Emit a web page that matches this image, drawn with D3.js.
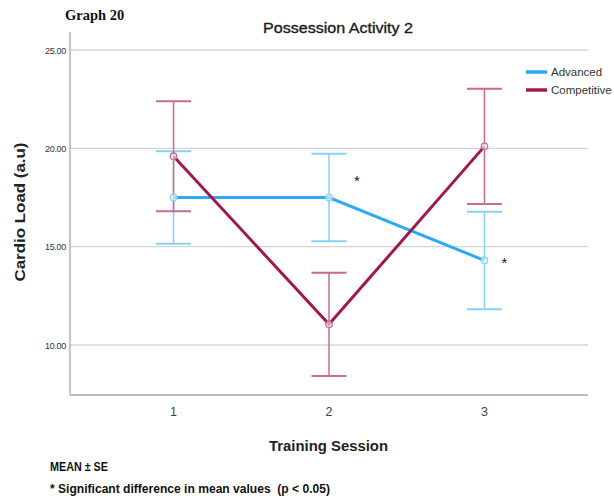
<!DOCTYPE html>
<html>
<head>
<meta charset="utf-8">
<script src="https://cdn.jsdelivr.net/npm/d3@7"></script>
<style>
  html, body { margin: 0; padding: 0; background: #fff; }
  svg { display: block; }
  text { font-family: "Liberation Sans", Arial, sans-serif; }
</style>
</head>
<body>
<svg id="chart" width="614" height="499"></svg>
<script>
// Training sessions on the x axis
const sessions = [1, 2, 3];
// Mean cardio load (a.u) per group and session
const advancedMean = [17.5, 17.5, 14.3];
const advancedSE = [2.35, 2.23, 2.48];
const competitiveMean = [19.6, 11.05, 20.1];
const competitiveSE = [2.8, 2.63, 2.93];
// Sessions flagged with a significant difference
const significant = [2, 3];
const yTicks = [10, 15, 20, 25];

const series = [
  { name: "Advanced", mean: advancedMean, se: advancedSE, line: "#2fa9f2", bar: "#86d1f8" },
  { name: "Competitive", mean: competitiveMean, se: competitiveSE, line: "#a01850", bar: "#c96a90" }
];

const svg = d3.select("#chart");
const plotLeft = 70, plotRight = 588, plotTop = 32, plotBottom = 395;

const x = d3.scalePoint().domain(sessions).range([plotLeft, plotRight]).padding(0.666);
const y = d3.scaleLinear().domain([10, 25]).range([345, 50]);

// Horizontal gridlines
svg.append("g").selectAll("line").data(yTicks).join("line")
  .attr("x1", plotLeft).attr("x2", plotRight)
  .attr("y1", d => y(d)).attr("y2", d => y(d))
  .attr("stroke", "#d4d4d4").attr("stroke-width", 1.3);

// Axes frame
svg.append("line").attr("x1", plotLeft).attr("x2", plotLeft).attr("y1", plotTop).attr("y2", plotBottom)
  .attr("stroke", "#a8a8a8").attr("stroke-width", 1.3);
svg.append("line").attr("x1", plotLeft).attr("x2", plotRight).attr("y1", plotBottom).attr("y2", plotBottom)
  .attr("stroke", "#a8a8a8").attr("stroke-width", 1.3);

// Y tick labels
svg.append("g").selectAll("text").data(yTicks).join("text")
  .attr("x", plotLeft - 4).attr("y", d => y(d) + 3.5)
  .attr("text-anchor", "end")
  .attr("font-size", 9).attr("fill", "#333")
  .attr("style", "font-family:'Liberation Sans Narrow','Liberation Sans',sans-serif; letter-spacing:-0.3px")
  .text(d => d3.format(".2f")(d));

// X tick labels
svg.append("g").selectAll("text").data(sessions).join("text")
  .attr("x", d => x(d)).attr("y", 416)
  .attr("text-anchor", "middle")
  .attr("font-size", 12.5).attr("fill", "#444")
  .attr("style", "font-family:'Liberation Sans Narrow','Liberation Sans',sans-serif")
  .text(d => d);

const capHalf = 17.5;

// Error bars (mean ± SE)
series.forEach(s => {
  const g = svg.append("g");
  const pts = sessions.map((d, i) => ({ s: d, m: s.mean[i], e: s.se[i] }));
  g.selectAll(".stem").data(pts).join("line")
    .attr("x1", d => x(d.s)).attr("x2", d => x(d.s))
    .attr("y1", d => y(d.m + d.e)).attr("y2", d => y(d.m - d.e))
    .attr("stroke", s.bar).attr("stroke-width", 1.5);
  g.selectAll(".capTop").data(pts).join("line")
    .attr("x1", d => x(d.s) - capHalf).attr("x2", d => x(d.s) + capHalf)
    .attr("y1", d => y(d.m + d.e)).attr("y2", d => y(d.m + d.e))
    .attr("stroke", s.bar).attr("stroke-width", 2);
  g.selectAll(".capBot").data(pts).join("line")
    .attr("x1", d => x(d.s) - capHalf).attr("x2", d => x(d.s) + capHalf)
    .attr("y1", d => y(d.m - d.e)).attr("y2", d => y(d.m - d.e))
    .attr("stroke", s.bar).attr("stroke-width", 2);
});

// Mean lines with markers
series.forEach(s => {
  const pts = sessions.map((d, i) => ({ s: d, m: s.mean[i] }));
  svg.append("path").datum(pts)
    .attr("d", d3.line().x(d => x(d.s)).y(d => y(d.m)))
    .attr("fill", "none").attr("stroke", s.line).attr("stroke-width", 3);
  svg.append("g").selectAll("circle").data(pts).join("circle")
    .attr("cx", d => x(d.s)).attr("cy", d => y(d.m)).attr("r", 3.2)
    .attr("fill", "#fff").attr("fill-opacity", 0.6)
    .attr("stroke", s.bar).attr("stroke-width", 1.3);
});

// Significance markers beside the Advanced means
svg.append("g").selectAll("text").data(significant).join("text")
  .attr("x", d => x(d) + (d === 2 ? 28 : 20))
  .attr("y", d => d === 2 ? y(advancedMean[d - 1]) - 12 : y(advancedMean[d - 1]) + 8)
  .attr("font-size", 15).attr("fill", "#222").attr("text-anchor", "middle")
  .text("*");

// Legend
const legend = svg.append("g");
series.forEach((s, i) => {
  const ly = 72 + i * 18;
  legend.append("line").attr("x1", 526).attr("x2", 547).attr("y1", ly).attr("y2", ly)
    .attr("stroke", s.line).attr("stroke-width", 3.5);
  legend.append("text").attr("x", 551).attr("y", ly + 4)
    .attr("font-size", 11.5).attr("fill", "#333")
    .attr("style", "font-family:'Liberation Sans Narrow','Liberation Sans',sans-serif")
    .text(s.name);
});

// Titles and notes
svg.append("text").attr("x", 65).attr("y", 20)
  .attr("style", "font-family:'Liberation Serif','Times New Roman',serif")
  .attr("font-size", 14.5).attr("font-weight", "bold").attr("fill", "#111")
  .text("Graph 20");
svg.append("text").attr("x", 263).attr("y", 33)
  .attr("font-size", 15).attr("fill", "#1a1a1a")
  .attr("stroke", "#1a1a1a").attr("stroke-width", 0.35)
  .attr("textLength", 150).attr("lengthAdjust", "spacingAndGlyphs")
  .text("Possession Activity 2");
svg.append("text")
  .attr("transform", "translate(25,212) rotate(-90)")
  .attr("text-anchor", "middle").attr("font-size", 15.5).attr("font-weight", "bold").attr("fill", "#222")
  .attr("textLength", 139).attr("lengthAdjust", "spacingAndGlyphs")
  .text("Cardio Load (a.u)");
svg.append("text").attr("x", 269).attr("y", 451)
  .attr("font-size", 15).attr("font-weight", "bold").attr("fill", "#222")
  .attr("textLength", 119).attr("lengthAdjust", "spacingAndGlyphs")
  .text("Training Session");
svg.append("text").attr("x", 50).attr("y", 471)
  .attr("font-size", 12.5).attr("font-weight", "bold").attr("fill", "#111")
  .attr("textLength", 58).attr("lengthAdjust", "spacingAndGlyphs")
  .text("MEAN ± SE");
svg.append("text").attr("x", 50).attr("y", 493)
  .attr("font-size", 12.5).attr("font-weight", "bold").attr("fill", "#111")
  .attr("xml:space", "preserve")
  .attr("textLength", 280).attr("lengthAdjust", "spacingAndGlyphs")
  .text("* Significant difference in mean values  (p < 0.05)");
</script>
</body>
</html>
